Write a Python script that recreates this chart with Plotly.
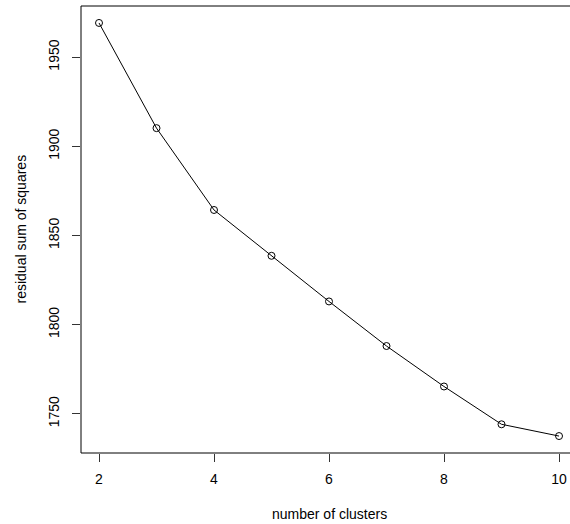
import plotly.graph_objects as go

clusters = [2, 3, 4, 5, 6, 7, 8, 9, 10]
rss = [1969.2, 1910.2, 1864.3, 1838.6, 1813.0, 1788.0, 1765.3, 1744.1, 1737.5]
x_ticks = [2, 4, 6, 8, 10]
y_ticks = [1750, 1800, 1850, 1900, 1950]

FONT = "Liberation Sans, Arial, Helvetica, sans-serif"
FS = 14

fig = go.Figure()
fig.add_trace(go.Scatter(
    x=clusters, y=rss, mode="lines+markers",
    line=dict(color="black", width=1),
    marker=dict(symbol="circle-open", size=7, color="black", line=dict(width=1)),
    cliponaxis=False,
))

fig.update_layout(
    width=570, height=524,
    margin=dict(l=81, r=0, t=6, b=71),
    paper_bgcolor="white", plot_bgcolor="white",
    showlegend=False,
    font=dict(family=FONT, size=FS, color="black"),
    xaxis=dict(range=[1.687, 10.191], tickvals=x_ticks, ticks="outside", ticklen=8,
               tickcolor="#333", tickwidth=1, showgrid=False, zeroline=False,
               showline=False, ticklabelstandoff=5,
               tickfont=dict(family=FONT, size=FS, color="black")),
    yaxis=dict(range=[1728.0, 1978.7], tickvals=y_ticks, ticks="outside", ticklen=8,
               tickcolor="#333", tickwidth=1, showgrid=False, zeroline=False,
               showline=False, tickangle=-90, ticklabelstandoff=7,
               tickfont=dict(family=FONT, size=FS, color="black")),
    shapes=[
        dict(type="line", xref="paper", yref="paper", x0=0, x1=1.02, y0=0, y1=0,
             line=dict(color="black", width=1)),
        dict(type="line", xref="paper", yref="paper", x0=0, x1=1.02, y0=1, y1=1,
             line=dict(color="black", width=1)),
        dict(type="line", xref="paper", yref="paper", x0=0, x1=0, y0=0, y1=1,
             line=dict(color="black", width=1)),
    ],
    annotations=[
        dict(text="number of clusters", xref="paper", yref="paper",
             x=(329 - 81) / 489, y=-(514 - 453) / 447, showarrow=False,
             xanchor="center", yanchor="middle",
             font=dict(family=FONT, size=FS, color="black")),
        dict(text="residual sum of squares", xref="paper", yref="paper",
             x=-(81 - 20) / 489, y=0.5, showarrow=False, textangle=-90,
             xanchor="center", yanchor="middle",
             font=dict(family=FONT, size=FS, color="black")),
    ],
)

fig.write_html("out.html",
               config={"displayModeBar": False},
               post_script="document.body.style.margin='0';document.body.style.padding='0';")
